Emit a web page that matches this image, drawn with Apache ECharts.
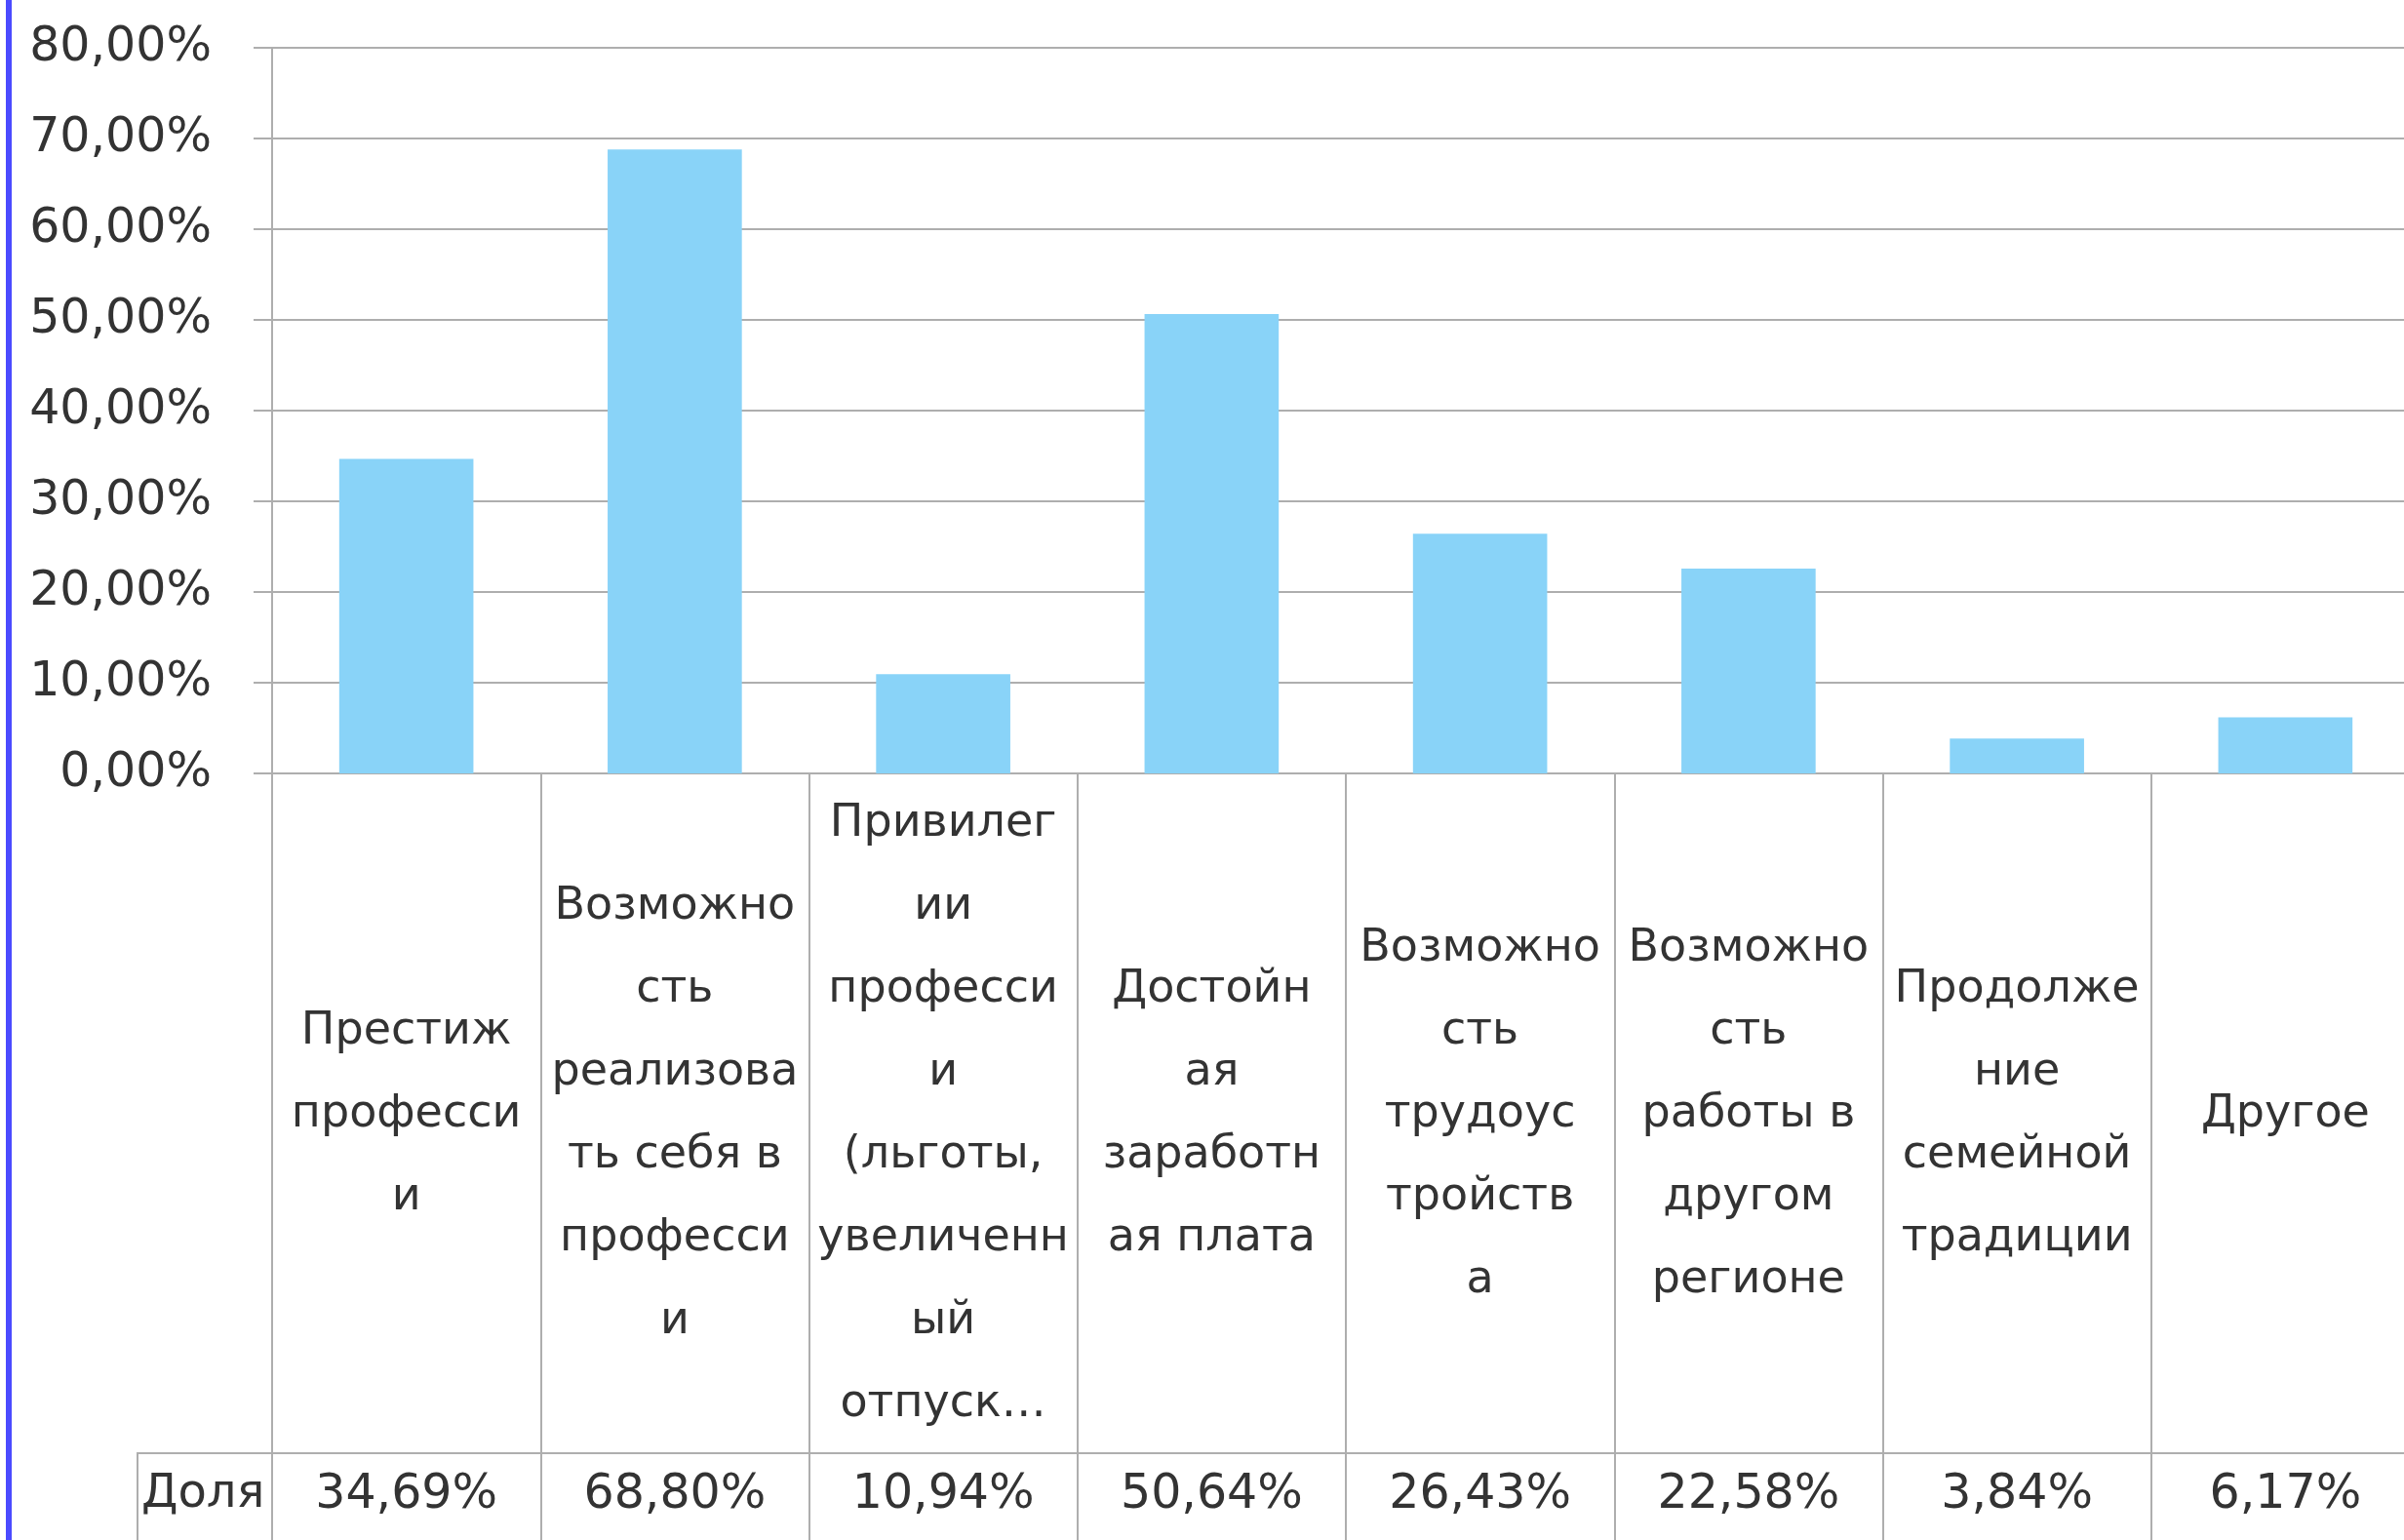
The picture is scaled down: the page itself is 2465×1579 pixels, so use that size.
<!DOCTYPE html>
<html>
<head>
<meta charset="utf-8">
<script src="https://cdn.jsdelivr.net/npm/echarts@6/dist/echarts.min.js"></script>
<style>
html,body{margin:0;padding:0;background:#fff;overflow:hidden;}
#chart{width:2481px;height:1579px;}
</style>
</head>
<body>
<div id="chart"></div>
<script>
const categories = [
  "Престиж\nпрофесси\nи",
  "Возможно\nсть\nреализова\nть себя в\nпрофесси\nи",
  "Привилег\nии\nпрофесси\nи\n(льготы,\nувеличенн\nый\nотпуск…",
  "Достойн\nая\nзаработн\nая плата",
  "Возможно\nсть\nтрудоус\nтройств\nа",
  "Возможно\nсть\nработы в\nдругом\nрегионе",
  "Продолже\nние\nсемейной\nтрадиции",
  "Другое"
];
const seriesName = "Доля";
const values = [34.69, 68.80, 10.94, 50.64, 26.43, 22.58, 3.84, 6.17];
const yTicks = { min: 0, max: 80, interval: 10 };

const fmt = v => v.toFixed(2).replace('.', ',') + '%';
const FONT = 'DejaVu Sans';
const TXT = '#333333';
const LINE = '#AEAEAE';

const chart = echarts.init(document.getElementById('chart'));
chart.setOption({
  backgroundColor: '#ffffff',
  animation: false,
  grid: { left: 279, top: 49, bottom: 786, right: 0, containLabel: false },
  xAxis: [
    {
      type: 'category',
      data: categories,
      position: 'bottom',
      axisLine: { show: true, lineStyle: { color: LINE, width: 2 } },
      axisTick: { show: true, interval: 0, length: 790, lineStyle: { color: LINE, width: 2 } },
      axisLabel: {
        interval: 0, margin: 350, verticalAlign: 'middle', align: 'center',
        fontFamily: FONT, fontSize: 46, lineHeight: 85, color: TXT
      },
      splitLine: { show: false }
    },
    {
      type: 'category',
      data: categories,
      position: 'bottom',
      offset: 697,
      axisLine: { show: true, lineStyle: { color: LINE, width: 2 } },
      axisTick: { show: false },
      axisLabel: {
        interval: 0, margin: 43, verticalAlign: 'middle', align: 'center',
        fontFamily: FONT, fontSize: 49, color: TXT,
        formatter: (v, i) => fmt(values[i])
      },
      splitLine: { show: false }
    }
  ],
  yAxis: {
    type: 'value',
    min: yTicks.min, max: yTicks.max, interval: yTicks.interval,
    axisLine: { show: true, lineStyle: { color: LINE, width: 2 } },
    axisTick: { show: true, length: 19, lineStyle: { color: LINE, width: 2 } },
    splitLine: { show: true, lineStyle: { color: LINE, width: 2 } },
    axisLabel: {
      margin: 62, fontFamily: FONT, fontSize: 49, color: TXT,
      verticalAlign: 'middle', padding: [0, 0, 12, 0],
      formatter: v => fmt(v)
    }
  },
  series: [{
    name: seriesName,
    type: 'bar',
    data: values,
    barWidth: '50%',
    itemStyle: { color: '#89D3F8' }
  }],
  graphic: [
    { type: 'rect', shape: { x: 6, y: 0, width: 6, height: 1579 }, style: { fill: '#4B4BFF' }, silent: true },
    { type: 'polyline', shape: { points: [[141, 1579], [141, 1490], [280, 1490]] }, style: { stroke: LINE, lineWidth: 2, fill: null }, silent: true },
    { type: 'text', x: 145, y: 1533, style: { text: seriesName, fontFamily: FONT, fontSize: 48, fill: TXT, verticalAlign: 'middle', align: 'left' }, silent: true }
  ]
});
</script>
</body>
</html>
